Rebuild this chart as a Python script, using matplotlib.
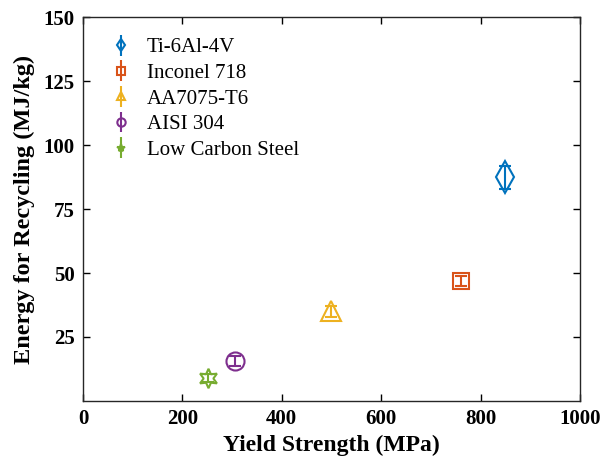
import matplotlib
matplotlib.use("Agg")
import matplotlib.pyplot as plt

materials = ["Ti-6Al-4V", "Inconel 718", "AA7075-T6", "AISI 304", "Low Carbon Steel"]
yield_strength = [850, 760, 500, 305, 252]
energy = [87.5, 47, 35, 15.5, 9]
energy_err = [4.5, 2, 2, 2, 1.5]
colors = ["#0072BD", "#D95319", "#EDB120", "#7E2F8E", "#77AC30"]
markers = ["d", "s", "^", "o", (6, 1, 0)]
msizes = [16, 11, 15, 13, 14]

plt.rcParams['font.family'] = ['Liberation Serif', 'DejaVu Serif']

fig = plt.figure(figsize=(6.01, 4.63), dpi=100)
ax = fig.add_axes([0.138, 0.134, 0.827, 0.829])

handles = []
for m, x, y, e, c, mk, ms in zip(materials, yield_strength, energy, energy_err, colors, markers, msizes):
    ax.errorbar(x, y, yerr=e, fmt='none', ecolor=c, elinewidth=1.5, capsize=4, capthick=1.5)
    ax.plot([x], [y], linestyle='none', marker=mk, markersize=ms, markerfacecolor='none',
            markeredgecolor=c, markeredgewidth=1.5)
    hl = ax.errorbar([], [], yerr=[], fmt=mk if not isinstance(mk, tuple) else '*', color=c,
                     markerfacecolor='none', markersize=6, elinewidth=1.5, capsize=3,
                     markeredgewidth=1.5, label=m)
    handles.append(hl)

ax.set_xlim(0, 1000)
ax.set_ylim(0, 150)
ax.set_xticks([0, 200, 400, 600, 800, 1000])
ax.set_yticks([25, 50, 75, 100, 125, 150])
ax.tick_params(direction='in', top=True, right=True, length=5, width=1, labelsize=15, pad=6)
for lab in ax.get_xticklabels() + ax.get_yticklabels():
    lab.set_fontweight('bold')
for s in ax.spines.values():
    s.set_linewidth(1)
    s.set_color('#262626')

ax.set_xlabel("Yield Strength (MPa)", fontsize=17, fontweight='bold', labelpad=4)
ax.set_ylabel("Energy for Recycling (MJ/kg)", fontsize=17.5, fontweight='bold', labelpad=6)

ax.legend(handles=handles, loc='upper left', frameon=False, fontsize=15,
          bbox_to_anchor=(0.013, 0.995), handlelength=1.2, labelspacing=0.29, handletextpad=0.65)

fig.savefig("out.png", dpi=100)
